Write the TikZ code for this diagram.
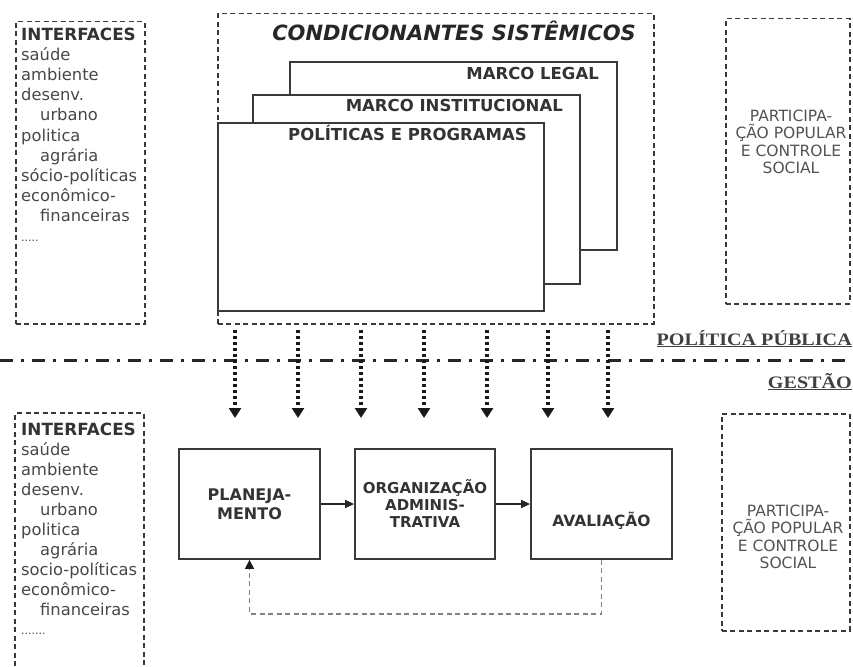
\documentclass[tikz,border=0pt]{standalone}
\usepackage{fontspec}
\setmainfont{DejaVu Sans}[BoldFont={DejaVu Sans Bold},ItalicFont={DejaVu Sans Oblique},BoldItalicFont={DejaVu Sans Bold Oblique}]
\newfontfamily\serifw{Liberation Serif}[FakeStretch=1.15]
\usetikzlibrary{arrows.meta}
\definecolor{ink}{HTML}{333333}
\definecolor{linec}{HTML}{3A3A3A}
\begin{document}
\begin{tikzpicture}[x=1pt,y=-1pt,
  dashbox/.style={draw=linec, line width=1.5pt, dash pattern=on 5pt off 3.5pt, inner sep=0pt, anchor=north west},
  layer/.style={draw=linec, line width=1.8pt, fill=white, inner sep=0pt, anchor=north west, minimum width=327pt, minimum height=188pt},
  layertxt/.style={anchor=base east, inner sep=0pt, font=\fontsize{16.5}{20}\selectfont\bfseries, text=ink},
  proc/.style={draw=linec, line width=1.8pt, inner sep=0pt, minimum width=141pt, minimum height=110pt, align=center, text=ink},
  listtxt/.style={anchor=base west, inner sep=0pt, font=\fontsize{16.3}{20}\selectfont, text=black!72},
  headtxt/.style={anchor=base west, inner sep=0pt, font=\fontsize{16.8}{20}\selectfont\bfseries, text=ink},
  parttxt/.style={align=center, inner sep=0pt, font=\fontsize{15.5}{17.5}\selectfont, text=black!68},
  dotarrow/.style={line width=3.4pt, dash pattern=on 3pt off 3pt, black!90, -{Triangle[length=10pt,width=12pt]}},
  flow/.style={line width=1.3pt, black!85, -{Triangle[length=9pt,width=8pt]}},
  fb/.style={line width=1.5pt, black!50, dash pattern=on 5pt off 3.5pt, -{Triangle[length=9pt,width=9pt,color=black!90]}},
  sep/.style={line width=3pt, black!85, dash pattern=on 13pt off 8pt on 3pt off 8pt},
  lvl/.style={anchor=base east, inner sep=0pt, font=\serifw\bfseries\fontsize{17.5}{20}\selectfont, text=black!75}
]
\useasboundingbox (0,0) rectangle (853,666);

% ---------- top half ----------
\node[dashbox, minimum width=129pt, minimum height=302pt] (ifa) at (15,21) {};
\node[headtxt] (ifa0) at (21,41) {INTERFACES};
\node[listtxt] (ifa1) at (21,61) {saúde};
\node[listtxt] (ifa2) at (21,81) {ambiente};
\node[listtxt] (ifa3) at (21,101) {desenv.};
\node[listtxt] (ifa4) at (40,121) {urbano};
\node[listtxt] (ifa5) at (21,141) {politica};
\node[listtxt] (ifa6) at (40,161) {agrária};
\node[listtxt] (ifa7) at (21,181) {sócio-políticas};
\node[listtxt] (ifa8) at (21,201) {econômico-};
\node[listtxt] (ifa9) at (40,221) {financeiras};
\node[listtxt, font=\fontsize{11}{20}\selectfont] (ifa10) at (21,241) {.....};

\node[dashbox, minimum width=436pt, minimum height=310pt] (sys) at (217,13) {};
\node[anchor=base east, inner sep=0pt, font=\fontsize{21}{24}\selectfont\bfseries\itshape, text=black!85] (systit) at (636,41) {CONDICIONANTES SISTÊMICOS};

\node[layer] (legal) at (289,61) {};
\node[layertxt] (legalt) at (599,80) {MARCO LEGAL};
\node[layer, minimum height=189pt] (inst) at (252,94) {};
\node[layertxt] (instt) at (563,112) {MARCO INSTITUCIONAL};
\node[layer, minimum width=326pt] (pol) at (217,122) {};
\node[layertxt] (polt) at (527,140) {POLÍTICAS E PROGRAMAS};

\node[dashbox, minimum width=124pt, minimum height=285pt] (parta) at (725,18) {};
\node[parttxt] (partat) at (791,142) {PARTICIPA-\\ÇÃO POPULAR\\E CONTROLE\\SOCIAL};

% ---------- separator ----------
\coordinate (sepL) at (0,360);
\coordinate (sepR) at (853,360);
\draw[sep] (sepL) -- (sepR);
\node[lvl] (pp) at (852,345) {\underline{POLÍTICA PÚBLICA}};
\node[lvl] (ge) at (852,388) {\underline{GESTÃO}};

\foreach \x [count=\i] in {235,298,361,424,487,548,608}{
  \coordinate (ds\i) at (\x,330);
  \coordinate (de\i) at (\x,418);
  \draw[dotarrow] (ds\i) -- (de\i);
}

% ---------- bottom half ----------
\coordinate (ifbA) at (15,666);
\coordinate (ifbB) at (15,413);
\coordinate (ifbC) at (144,413);
\coordinate (ifbD) at (144,666);
\draw[draw=linec, line width=1.5pt, dash pattern=on 5pt off 3.5pt] (ifbA) -- (ifbB) -- (ifbC) -- (ifbD);
\node[headtxt] (ifb0) at (21,435) {INTERFACES};
\node[listtxt] (ifb1) at (21,455) {saúde};
\node[listtxt] (ifb2) at (21,475) {ambiente};
\node[listtxt] (ifb3) at (21,495) {desenv.};
\node[listtxt] (ifb4) at (40,515) {urbano};
\node[listtxt] (ifb5) at (21,535) {politica};
\node[listtxt] (ifb6) at (40,555) {agrária};
\node[listtxt] (ifb7) at (21,575) {socio-políticas};
\node[listtxt] (ifb8) at (21,595) {econômico-};
\node[listtxt] (ifb9) at (40,615) {financeiras};
\node[listtxt, font=\fontsize{11}{20}\selectfont] (ifb10) at (21,634) {.......};

\node[proc, font=\fontsize{16}{19}\selectfont\bfseries] (plan) at (249.5,504) {PLANEJA-\\MENTO};
\node[proc, minimum width=140pt, font=\fontsize{15}{17}\selectfont\bfseries] (org) at (425,504) {ORGANIZAÇÃO\\ADMINIS-\\TRATIVA};
\node[proc] (aval) at (601.5,504) {};
\node[inner sep=0pt, font=\fontsize{15.5}{17}\selectfont\bfseries, text=ink] (avalt) at (601.5,521) {AVALIAÇÃO};

\draw[flow] (plan) -- (org);
\draw[flow] (org) -- (aval);
\draw[fb] (aval.south) -- ++(0,54) -| (plan.south);

\node[dashbox, minimum width=128pt, minimum height=217pt] (partb) at (721,413) {};
\node[parttxt] (partbt) at (788,537) {PARTICIPA-\\ÇÃO POPULAR\\E CONTROLE\\SOCIAL};
\end{tikzpicture}
\end{document}
